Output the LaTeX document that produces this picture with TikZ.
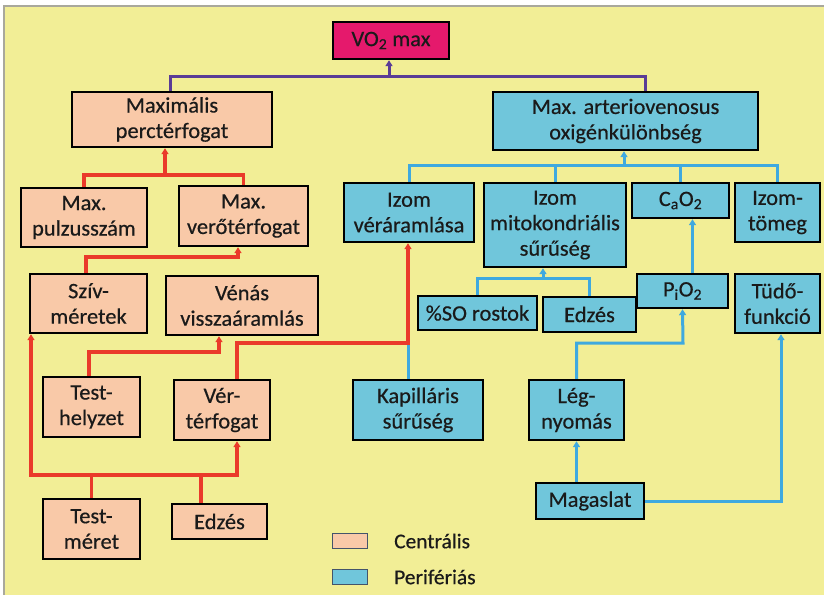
\documentclass[tikz,border=0pt]{standalone}
\usepackage{fontspec}
\setmainfont{Carlito}[FakeStretch=1.02, FakeBold=0.5]
\usetikzlibrary{arrows.meta}

\definecolor{bgyellow}{HTML}{F2EE96}
\definecolor{framegray}{HTML}{A9A89C}
\definecolor{peach}{HTML}{F9C9A8}
\definecolor{cyanfill}{HTML}{70C6DB}
\definecolor{vopink}{HTML}{E5196C}
\definecolor{redline}{HTML}{EA3A2A}
\definecolor{blueline}{HTML}{3FA9DF}
\definecolor{purpleline}{HTML}{5A3C96}
\definecolor{legendedge}{HTML}{44546A}
\definecolor{inktext}{HTML}{1A1A1A}

\tikzset{
  box/.style={draw=black, line width=2.4pt, inner sep=0pt, align=center,
    text=inktext, font=\fontsize{22}{25.5}\selectfont},
  cbox/.style={box, fill=peach},
  pbox/.style={box, fill=cyanfill},
  sz/.style 2 args={minimum width=#1pt, minimum height=#2pt},
  tip/.style={-{Triangle[width=7pt,length=6pt]}},
  tipboth/.style={{Triangle[width=7pt,length=6pt]}-{Triangle[width=7pt,length=6pt]}},
  redl/.style={draw=redline, line width=3.2pt},
  bluel/.style={draw=blueline, line width=3pt},
  purpl/.style={draw=purpleline, line width=3pt},
  legbox/.style={draw=legendedge, line width=1.8pt, minimum width=35pt, minimum height=15pt, inner sep=0pt},
  legtext/.style={anchor=west, inner sep=0pt, text=inktext, font=\fontsize{21}{24}\selectfont},
}

\begin{document}
\begin{tikzpicture}[x=1pt, y=1pt]
  % page and framed background
  \useasboundingbox (0,0) rectangle (824,-595);
  \fill[white] (0,0) rectangle (824,-595);
  \fill[framegray] (3,-5) rectangle (824,-595);
  \fill[bgyellow] (5,-7) rectangle (824,-595);

  % top
  \node[box, fill=vopink, sz={116}{37}] (vo2) at (391,-40.5) {VO\textsubscript{2} max};

  % central branch
  \node[cbox, sz={200}{55}] (maxperc) at (172,-119.5) {Maximális\\perctérfogat};
  \node[cbox, sz={126}{59}] (pulz) at (84,-217.5) {Max.\\pulzusszám};
  \node[cbox, sz={129}{60}] (vero) at (243.5,-216) {Max.\\verőtérfogat};
  \node[cbox, sz={117}{59}] (sziv) at (88.5,-303.5) {Szív-\\méretek};
  \node[cbox, sz={152}{59}] (venas) at (242,-305.5) {Vénás\\visszaáramlás};
  \node[cbox, sz={97}{60}] (helyzet) at (91.5,-407) {Test-\\helyzet};
  \node[cbox, sz={96}{60}] (verterf) at (222,-410) {Vér-\\térfogat};
  \node[cbox, sz={97}{60}] (meret) at (91.5,-529) {Test-\\méret};
  \node[cbox, sz={95}{35}] (edzesl) at (219.5,-521.5) {Edzés};

  % peripheral branch
  \node[pbox, sz={265}{58}] (avdiff) at (625.5,-121) {Max. arteriovenosus\\oxigénkülönbség};
  \node[pbox, sz={130}{59}] (izomver) at (409,-212.5) {Izom\\véráramlása};
  \node[pbox, sz={142}{84}] (mito) at (555,-225) {Izom\\mitokondriális\\sűrűség};
  \node[pbox, sz={97}{35}] (cao2) at (680.5,-200.5) {C\textsubscript{a}O\textsubscript{2}};
  \node[pbox, sz={85}{59}] (tomeg) at (777.5,-212.5) {Izom-\\tömeg};
  \node[pbox, sz={119}{34}] (so) at (477.5,-313) {\%SO rostok};
  \node[pbox, sz={93}{35}] (edzesm) at (589.5,-314.5) {Edzés};
  \node[pbox, sz={91}{34}] (pio2) at (682.5,-291) {P\textsubscript{i}O\textsubscript{2}};
  \node[pbox, sz={85}{59}] (tudo) at (777.5,-303.5) {Tüdő-\\funkció};
  \node[pbox, sz={130}{60}] (kapil) at (418,-410) {Kapilláris\\sűrűség};
  \node[pbox, sz={95}{60}] (leg) at (576.5,-410) {Lég-\\nyomás};
  \node[pbox, sz={108}{36}] (magas) at (590,-501) {Magaslat};

  % legend
  \node[legbox, fill=peach] (legc) at (350,-541) {};
  \node[legbox, fill=cyanfill] (legp) at (350,-577) {};
  \node[legtext] (legct) at (394,-541) {Centrális};
  \node[legtext] (legpt) at (394,-577) {Perifériás};

  % junction points
  \coordinate (jv) at (389,-76);
  \coordinate (j1) at (165,-175);
  \coordinate (j2) at (238,-257);
  \coordinate (j3) at (219,-352);
  \coordinate (j4) at (408,-343);
  \coordinate (jl) at (31,-475);
  \coordinate (jr) at (237,-475);
  \coordinate (jb) at (624,-165);
  \coordinate (jm) at (543,-278);
  \coordinate (jp) at (683,-343);

  % purple connectors
  \draw[purpl] ([xshift=-2pt]maxperc.north) |- (jv) -| ([xshift=20pt]avdiff.north);
  \draw[purpl, tip] (jv) -- (jv |- vo2.south);

  % blue connectors
  \draw[bluel] (izomver.north) |- (jb) -| (tomeg.north);
  \draw[bluel] (mito.north) -- (mito.north |- jb);
  \draw[bluel] (cao2.north) -- (cao2.north |- jb);
  \draw[bluel, tip] (jb) -- (jb |- avdiff.south);
  \draw[bluel] (so.north) |- (jm) -| (edzesm.north);
  \draw[bluel, tip] (jm) -- (jm |- mito.south);
  \draw[bluel, tip] ([xshift=10pt]pio2.north) -- ([xshift=10pt]pio2.north |- cao2.south);
  \draw[bluel, tip] (leg.north) |- (jp) -- (pio2.south);
  \draw[bluel, tip] (magas.north -| leg.south) -- (leg.south);
  \draw[bluel, tip] (magas.east) -| ([xshift=3.5pt]tudo.south);
  \draw[bluel] (kapil.north -| j4) -- (j4);

  % red connectors
  \draw[redl] (pulz.north) |- (j1) -| (vero.north);
  \draw[redl, tip] (j1) -- (j1 |- maxperc.south);
  \draw[redl, tip] ([xshift=-2.5pt]sziv.north) |- (j2) -- (j2 |- vero.south);
  \draw[redl, tip] ([xshift=-2.5pt]helyzet.north) |- (j3) -- (j3 |- venas.south);
  \draw[redl, tip] ([xshift=15pt]verterf.north) |- (j4) -- (j4 |- izomver.south);
  \draw[redl, tipboth] (jl |- sziv.south) -- (jl) -- (jr) -- (jr |- verterf.south);
  \draw[redl] (meret.north) -- (meret.north |- jl);
  \draw[redl] (edzesl.north -| 201,0) -- (jl -| 201,0);
\end{tikzpicture}
\end{document}
